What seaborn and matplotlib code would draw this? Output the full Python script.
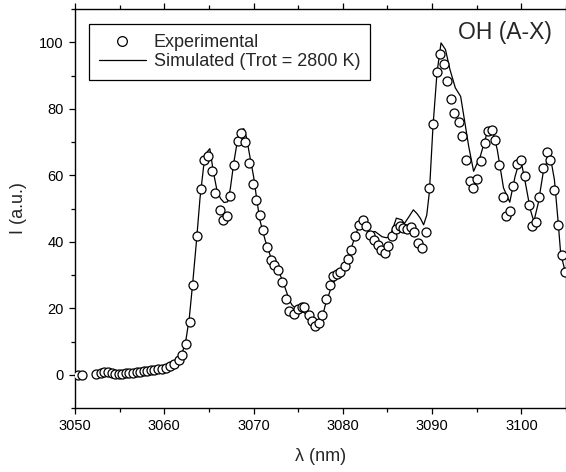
import matplotlib
matplotlib.use("Agg")
import matplotlib.pyplot as plt
from matplotlib.lines import Line2D
from matplotlib.ticker import MultipleLocator
import seaborn as sns
import pandas as pd

# Experimental data (circles)
exp_wl = [3050.3, 3050.8, 3052.4, 3052.9, 3053.3, 3053.7, 3054.1, 3054.5, 3054.9, 3055.3,
          3055.7, 3056.1, 3056.5, 3056.9, 3057.3, 3057.7, 3058.1, 3058.5, 3058.9, 3059.3,
          3059.7, 3060.2, 3060.65, 3061.1, 3061.6, 3061.96, 3062.44, 3062.89, 3063.27, 3063.68,
          3064.09, 3064.5, 3064.9, 3065.3, 3065.7, 3066.2, 3066.6, 3067.0, 3067.4, 3067.8,
          3068.24, 3068.6, 3069.06, 3069.5, 3069.9, 3070.3, 3070.7, 3071.1, 3071.5, 3071.9,
          3072.3, 3072.7, 3073.2, 3073.6, 3074.0, 3074.5, 3074.97, 3075.4, 3075.7, 3076.2,
          3076.5, 3076.9, 3077.3, 3077.7, 3078.1, 3078.6, 3078.9, 3079.3, 3079.7, 3080.2,
          3080.6, 3080.9, 3081.4, 3081.8, 3082.25, 3082.6, 3083.1, 3083.5, 3083.9, 3084.3,
          3084.75, 3085.1, 3085.5, 3085.95, 3086.36, 3086.7, 3087.2, 3087.6, 3088.0, 3088.4,
          3088.9, 3089.3, 3089.7, 3090.1, 3090.5, 3090.9, 3091.3, 3091.7, 3092.1, 3092.5,
          3093.0, 3093.35, 3093.8, 3094.2, 3094.6, 3095.0, 3095.5, 3095.9, 3096.3, 3096.7,
          3097.1, 3097.5, 3097.9, 3098.3, 3098.7, 3099.1, 3099.5, 3099.96, 3100.4, 3100.8,
          3101.2, 3101.65, 3102.0, 3102.4, 3102.9, 3103.25, 3103.7, 3104.1, 3104.5, 3104.9]
exp_I = [0.0, 0.0, 0.1, 0.5, 0.8, 0.7, 0.5, 0.3, 0.2, 0.3,
         0.4, 0.5, 0.6, 0.7, 0.9, 1.0, 1.2, 1.4, 1.5, 1.6,
         1.8, 2.1, 2.6, 3.3, 4.5, 6.0, 9.3, 15.9, 27.1, 41.8,
         55.9, 64.7, 65.9, 61.3, 54.8, 49.5, 46.4, 47.6, 53.9, 63.2,
         70.2, 72.7, 70.0, 63.7, 57.4, 52.5, 48.1, 43.4, 38.4, 34.6,
         33.1, 31.4, 28.0, 22.9, 19.3, 18.4, 19.8, 20.4, 20.3, 18.1,
         16.1, 14.8, 15.5, 18.0, 22.8, 27.1, 29.8, 30.4, 31.0, 32.6,
         34.8, 37.4, 41.6, 45.1, 46.6, 44.8, 42.1, 40.4, 39.1, 37.6,
         36.6, 38.6, 41.6, 43.8, 44.6, 44.1, 43.8, 44.4, 42.8, 39.6,
         38.0, 42.8, 56.3, 75.4, 91.0, 96.5, 93.6, 88.3, 82.8, 78.7,
         76.0, 71.7, 64.7, 58.2, 56.2, 58.9, 64.2, 69.7, 73.2, 73.7,
         70.7, 63.0, 53.5, 47.6, 49.3, 56.7, 63.4, 64.5, 59.9, 51.2,
         44.8, 45.8, 53.4, 62.2, 66.9, 64.7, 55.7, 45.1, 36.1, 30.8]

# Simulated spectrum (line)
sim_wl = [3058.0, 3059.0, 3060.0, 3060.6, 3061.0, 3061.5, 3062.0, 3062.4, 3062.8, 3063.2,
          3063.6, 3064.0, 3064.4, 3064.8, 3065.1, 3065.5, 3065.9, 3066.3, 3066.7, 3067.1,
          3067.4, 3067.8, 3068.2, 3068.6, 3068.9, 3069.2, 3069.6, 3070.0, 3070.4, 3070.7,
          3071.3, 3071.9, 3072.6, 3073.35, 3074.0, 3074.3, 3074.85, 3075.5, 3076.0, 3076.7,
          3077.3, 3077.7, 3078.0, 3078.8, 3079.5, 3080.3, 3081.0, 3081.5, 3081.95, 3082.3,
          3082.9, 3083.6, 3084.4, 3084.9, 3085.3, 3086.0, 3086.6, 3086.9, 3087.4, 3087.9,
          3088.3, 3088.7, 3089.05, 3089.4, 3089.7, 3090.1, 3090.55, 3091.0, 3091.5, 3092.0,
          3092.6, 3093.2, 3093.5, 3094.1, 3094.65, 3095.4, 3096.15, 3096.7, 3097.3, 3098.0,
          3098.7, 3099.3, 3099.9, 3100.45, 3101.0, 3101.4, 3101.9, 3102.5, 3103.2, 3103.7,
          3104.1, 3104.4, 3105.0]
sim_I = [1.0, 1.5, 2.0, 2.6, 3.5, 4.8, 6.5, 10.0, 17.0, 28.0,
         40.0, 53.0, 62.5, 67.0, 68.0, 61.0, 55.5, 53.0, 51.8, 52.0,
         56.0, 64.0, 70.5, 73.5, 74.0, 71.5, 65.5, 59.7, 52.0, 46.6,
         40.5, 35.6, 32.6, 27.6, 22.5, 21.0, 19.6, 19.0, 18.0, 15.7,
         15.0, 17.0, 20.6, 27.1, 29.8, 32.6, 38.6, 42.5, 46.1, 47.1,
         42.6, 43.1, 41.5, 41.2, 41.6, 47.1, 46.6, 45.5, 47.5, 49.6,
         48.5, 47.0, 45.1, 48.0, 55.0, 74.7, 90.8, 99.8, 97.8, 91.8,
         86.3, 83.7, 78.7, 68.7, 61.2, 65.7, 72.7, 74.2, 67.7, 56.2,
         51.9, 59.7, 65.2, 57.7, 49.7, 46.1, 51.7, 61.7, 66.2, 58.7,
         46.6, 36.6, 30.0]

x_ticks = [3050, 3060, 3070, 3080, 3090, 3100]
y_ticks = [0, 20, 40, 60, 80, 100]

sns.set_style("ticks")
plt.rcParams['font.family'] = ['Liberation Sans', 'DejaVu Sans']

df_exp = pd.DataFrame({"wl": exp_wl, "I": exp_I})
df_sim = pd.DataFrame({"wl": sim_wl, "I": sim_I})

fig = plt.figure(figsize=(5.66, 4.72), dpi=100)
ax = fig.add_axes([75/566, 64/472, 491/566, 399/472])

sns.lineplot(data=df_sim, x="wl", y="I", ax=ax, color="black", linewidth=0.9,
             sort=False, zorder=2, legend=False)
sns.scatterplot(data=df_exp, x="wl", y="I", ax=ax, marker="o", s=42,
                facecolor="white", edgecolor="black", linewidth=0.9,
                zorder=3, legend=False)

ax.set_xlim(3050, 3105)
ax.set_ylim(-10, 110)
ax.set_xticks(x_ticks)
ax.set_yticks(y_ticks)
ax.xaxis.set_minor_locator(MultipleLocator(5))
ax.yaxis.set_minor_locator(MultipleLocator(10))
ax.tick_params(axis="both", which="major", labelsize=10.5, direction="out",
               length=4.5, width=0.9, color="black", labelcolor="black")
ax.tick_params(axis="both", which="minor", direction="out", length=3, width=0.9,
               color="black")
ax.tick_params(axis="x", which="both", top=True, labeltop=False)
for sp in ax.spines.values():
    sp.set_visible(True)
    sp.set_color("black")
    sp.set_linewidth(1.0)

ax.set_xlabel("λ (nm)", fontsize=13, labelpad=11)
ax.set_ylabel("I (a.u.)", fontsize=13, labelpad=9)

handles = [
    Line2D([], [], marker="o", linestyle="none", markerfacecolor="white",
           markeredgecolor="black", markersize=7, markeredgewidth=0.9),
    Line2D([], [], color="black", linewidth=0.9),
]
leg = ax.legend(handles, ["Experimental", "Simulated (Trot = 2800 K)"],
                loc="upper left", bbox_to_anchor=(0.0285, 0.962),
                frameon=True, fancybox=False, fontsize=13,
                borderpad=0.55, handlelength=2.6, handletextpad=0.45,
                labelspacing=0.1, borderaxespad=0.0)
leg.get_frame().set_edgecolor("black")
leg.get_frame().set_linewidth(0.9)
leg.get_frame().set_alpha(1.0)

ax.text(0.971, 0.94, "OH (A-X)", transform=ax.transAxes, ha="right", va="center",
        fontsize=16.5)

fig.savefig("out.png", dpi=100)
